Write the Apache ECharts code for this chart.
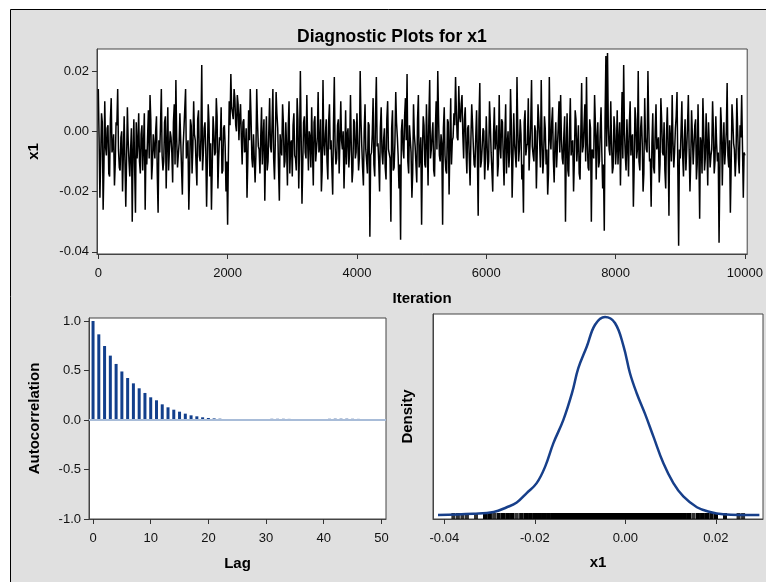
<!DOCTYPE html>
<html>
<head>
<meta charset="utf-8">
<title>Diagnostic Plots for x1</title>
<script src="https://cdn.jsdelivr.net/npm/echarts@6/dist/echarts.min.js"></script>
<style>
html,body{margin:0;padding:0;background:#fff}
#main{width:766px;height:582px}
</style>
</head>
<body>
<div id="main"></div>
<script>
// trace of x1 in thousandths: traceMilli at iterations 0,25,50..., traceMilliMid at 12,37,62...
var traceStep = 25;
var traceMidOffset = 12;
var traceMilli = [
    14,-22,6,-26,10,-8,2,-15,11,-5,-18,3,14,-12,-2,-20,5,-25,8,-10,
    -6,-30,4,-27,-9,6,-14,2,-4,-26,-11,7,12,-16,-1,-9,5,-27,-7,14,
    -13,3,-19,8,-6,-2,-17,9,17,-12,-4,6,-21,1,14,-9,-26,4,-14,10,
    -3,-18,7,-10,22,-7,3,-25,9,-15,-26,5,-8,11,-19,-2,8,-13,2,-20,
    -31,10,19,6,14,2,12,-3,9,-11,4,-6,-22,7,14,-9,-1,-17,14,-5,
    -14,8,-2,-23,5,-10,11,-7,14,-16,13,1,-23,-6,9,-12,3,-18,10,-4,
    -15,6,-9,11,-19,20,-24,3,-7,12,-13,-2,8,-18,5,-10,13,-5,-20,17,
    -8,4,-16,9,-3,-21,18,-11,2,-14,10,-6,-19,7,-1,-12,12,-17,4,-9,
    6,-13,20,-5,-18,9,-10,3,-35,-7,11,-15,18,-4,-20,8,-11,1,-16,10,
    -6,-30,7,-12,13,-2,-19,-36,4,-9,11,19,-14,2,-22,9,-5,-17,12,-8,
    -31,5,-11,9,-18,17,-6,3,-15,10,20,-8,-1,-31,8,-13,4,-21,11,-3,
    6,18,-2,15,3,12,-9,8,-14,2,-18,9,-5,-12,7,-28,16,-10,1,-16,
    5,-13,10,-7,-20,8,-2,-15,12,-9,3,-18,9,-4,-12,14,-22,6,-8,18,
    -10,4,-16,-27,7,-5,11,-13,17,-8,2,-19,9,-3,17,-14,5,-11,-21,18,
    -6,8,-17,3,-12,10,12,-9,-1,-30,6,-15,11,-4,-20,7,-10,2,-16,16,
    -5,9,18,-12,4,-30,-7,12,-16,3,-10,8,-19,-33,25,26,-6,10,-14,5,
    -11,7,-3,-18,13,22,-8,4,-15,10,-2,-25,8,-9,20,-13,5,-20,11,-6,
    20,-10,-25,6,-14,9,-4,-17,11,-7,3,-19,8,-28,-3,12,-12,1,13,-38,
    -9,10,-15,4,-6,12,-20,7,-11,2,-16,9,-29,-4,11,-13,6,-18,3,-8,
    10,-14,5,-10,-37,8,-18,3,-6,16,-12,-27,9,-4,-15,11,-9,2,12,-22,-8
];
var traceMilliMid = [
    -2,-9,3,-12,-5,1,-14,4,-7,-1,-11,2,-6,-13,0,-8,5,-10,-3,-15,
    1,-7,-12,3,-4,-10,-1,-13,6,-6,-2,-9,4,-11,-5,0,-14,-3,2,-8,
    -10,5,-4,-13,0,-7,3,-11,-2,-8,6,-12,-5,1,-9,-3,-14,2,-6,-1,
    -11,4,-8,-2,-13,1,-6,-10,3,-4,-12,0,-7,5,-9,-3,-14,1,-5,-10,
    -8,2,8,4,11,0,9,5,-2,3,-7,1,-10,-3,5,-12,-1,-8,3,-6,
    -2,-11,4,-7,-13,0,-5,2,-9,-4,6,-12,-1,-8,3,-10,-5,1,-14,-3,
    2,-8,-13,4,-6,-1,-11,5,-9,-3,0,-12,-6,3,-10,-2,-7,4,-13,-4,
    -1,-10,3,-6,-12,2,-5,-9,4,-14,-3,0,-8,-11,1,-6,-4,-13,3,-7,
    -3,-9,4,-12,0,-6,-14,2,-8,-1,-11,5,-5,-10,1,-7,-3,-12,4,-6,
    -9,1,-13,-4,3,-8,-11,0,-6,5,-3,-10,2,-7,-14,-1,-5,4,-12,-2,
    -7,2,-12,-3,4,-9,-1,-13,0,-6,5,-10,-4,1,-8,-14,3,-5,-11,-2,
    2,7,-3,5,9,-1,4,-6,1,-9,-3,3,-11,-2,-7,4,-12,-5,0,-9,
    -4,-10,3,-13,-1,-6,2,-11,-5,4,-8,-2,-14,0,-7,3,-10,-4,-12,1,
    -6,-1,-11,3,-8,-4,-13,2,-5,-10,0,-7,4,-12,-3,-9,1,-6,-14,-2,
    3,-9,-4,-12,1,-7,-2,-11,5,-6,-13,0,-8,-3,-10,4,-5,-14,-1,-7,
    2,-10,-4,-13,1,-6,-9,3,-2,-12,0,-7,-11,4,-5,2,-8,-3,-12,1,
    -6,-11,3,-3,-9,0,-13,-5,2,-8,-1,-12,4,-6,-10,1,-4,-14,-2,-7,
    3,-9,-4,-12,0,-6,-2,-11,4,-8,-13,-1,-5,2,-10,-3,-7,5,-12,-6,
    0,-8,-3,-13,2,-6,-10,-1,-5,4,-11,-7,-2,-14,1,-9,-4,3,-12,-6,
    1,-10,-4,-7,-13,2,-5,-11,0,-8,-3,-12,4,-6,-9,1,-14,-2,-5,-7
];

// autocorrelation by lag
var acfLags = [];
for (var k = 0; k <= 50; k++) acfLags.push(k);
var acfValues = [
    1.0,0.865,0.747,0.65,0.566,0.49,0.424,0.37,0.32,0.273,
    0.229,0.199,0.158,0.128,0.104,0.084,0.064,0.047,0.037,0.027,
    0.02,0.016,0.013,0.01,0.005,0.002,0.001,0,0,0,
    0.001,0.012,0.012,0.012,0.011,0.01,0.01,0.008,0.002,0.001,
    0.004,0.012,0.013,0.013,0.013,0.012,0.011,0.005,0.001,-0.008,-0.008
];

// kernel density of x1
var densityX = [-0.0414,-0.0336,-0.0291,-0.0262,-0.024,-0.0218,-0.0196,-0.0177,-0.0159,-0.0137,
    -0.0118,-0.0104,-0.0085,-0.0067,-0.0045,-0.0023,-0.0004,0.001,0.0025,0.0043,
    0.0062,0.0084,0.0106,0.0128,0.0158,0.0187,0.0216,0.0296];
var densityY = [0,0.3,0.7,1.8,2.9,5.1,7.4,11.3,16.7,22.1,
    28.3,34.1,39.2,44.2,46.0,44.6,39.2,33.0,28.3,23.6,
    18.2,12.0,7.4,4.3,1.8,0.7,0.2,0];

var iterTicks = [0,2000,4000,6000,8000,10000];
var x1Ticks = [-0.04,-0.02,0,0.02];
var acfTicks = [-1,-0.5,0,0.5,1];
var lagTicks = [0,10,20,30,40,50];

var FONT = '"Liberation Sans", Arial, sans-serif';
var densMin = -0.93;

function axisBase(ticks, fmt, margin) {
    return {
        type: 'value',
        splitLine: {show: false},
        axisLine: {show: true, onZero: false, lineStyle: {color: '#444', width: 1}},
        axisTick: {show: true, length: 5, customValues: ticks, lineStyle: {color: '#333'}},
        axisLabel: {customValues: ticks, formatter: fmt, color: '#111', fontSize: 13,
            fontFamily: FONT, margin: margin},
        nameLocation: 'middle',
        nameTextStyle: {fontWeight: 'bold', fontSize: 15, color: '#000', fontFamily: FONT}
    };
}
function ext(a, b) { for (var key in b) a[key] = b[key]; return a; }

var traceData = [];
var rugData = [];
for (var i = 0; i < traceMilli.length; i++) {
    traceData.push([i * traceStep, traceMilli[i] / 1000]);
    rugData.push([traceMilli[i] / 1000, densMin]);
    if (i < traceMilliMid.length) {
        traceData.push([i * traceStep + traceMidOffset, traceMilliMid[i] / 1000]);
        rugData.push([traceMilliMid[i] / 1000, densMin]);
    }
}

var myChart = echarts.init(document.getElementById('main'), null, {renderer: 'canvas'});
myChart.setOption({
    animation: false,
    backgroundColor: '#fff',
    graphic: [{
        type: 'rect', z: -10,
        shape: {x: 10.5, y: 9.5, width: 800, height: 620},
        style: {fill: '#e0e0e0', stroke: '#000', lineWidth: 1}
    }],
    title: {
        text: 'Diagnostic Plots for x1',
        left: 292, top: 23,
        textStyle: {fontSize: 17.5, fontWeight: 'bold', color: '#000', fontFamily: FONT}
    },
    grid: [
        {left: 97, top: 49, width: 652, height: 205, show: true, backgroundColor: '#fff', borderColor: '#444', borderWidth: 1},
        {left: 89, top: 318, width: 297, height: 201, show: true, backgroundColor: '#fff', borderColor: '#444', borderWidth: 1},
        {left: 433, top: 314, width: 330, height: 205, show: true, backgroundColor: '#fff', borderColor: '#444', borderWidth: 1}
    ],
    xAxis: [
        ext(axisBase(iterTicks, function (v) { return String(v); }, 13),
            {gridIndex: 0, min: -20, max: 10035, name: 'Iteration', nameGap: 37}),
        ext(axisBase(lagTicks, function (v) { return String(v); }, 13),
            {gridIndex: 1, min: -0.7, max: 50.8, name: 'Lag', nameGap: 37}),
        ext(axisBase(x1Ticks, function (v) { return v.toFixed(2); }, 13),
            {gridIndex: 2, min: -0.0425, max: 0.0304, name: 'x1', nameGap: 36})
    ],
    yAxis: [
        ext(axisBase(x1Ticks, function (v) { return v.toFixed(2); }, 8),
            {gridIndex: 0, min: -0.0407, max: 0.0273, name: 'x1', nameGap: 56}),
        ext(axisBase(acfTicks, function (v) { return v.toFixed(1); }, 8),
            {gridIndex: 1, min: -1, max: 1.03, name: 'Autocorrelation', nameGap: 47}),
        ext(axisBase([], function () { return ''; }, 8),
            {gridIndex: 2, min: densMin, max: 46.7, name: 'Density', nameGap: 18,
             axisTick: {show: false}, axisLabel: {show: false}})
    ],
    series: [
        {
            type: 'line', xAxisIndex: 0, yAxisIndex: 0,
            data: traceData,
            showSymbol: false, symbol: 'none',
            lineStyle: {color: '#000', width: 1.5},
            silent: true
        },
        {
            type: 'bar', xAxisIndex: 1, yAxisIndex: 1,
            data: acfLags.map(function (l, i) { return [l, acfValues[i]]; }),
            barWidth: 3,
            itemStyle: {color: '#123f8c'},
            markLine: {
                silent: true, symbol: 'none',
                label: {show: false},
                lineStyle: {color: '#a8bcd8', width: 2, type: 'solid'},
                data: [{yAxis: 0}]
            }
        },
        {
            type: 'scatter', xAxisIndex: 2, yAxisIndex: 2,
            data: rugData,
            symbol: 'rect', symbolSize: [4, 6], symbolOffset: [0, -3],
            itemStyle: {color: '#000'},
            silent: true
        },
        {
            type: 'line', xAxisIndex: 2, yAxisIndex: 2,
            data: densityX.map(function (x, i) { return [x, densityY[i]]; }),
            smooth: 0.4, showSymbol: false, symbol: 'none',
            lineStyle: {color: '#173f8a', width: 2.5}
        }
    ]
});
</script>
</body>
</html>
